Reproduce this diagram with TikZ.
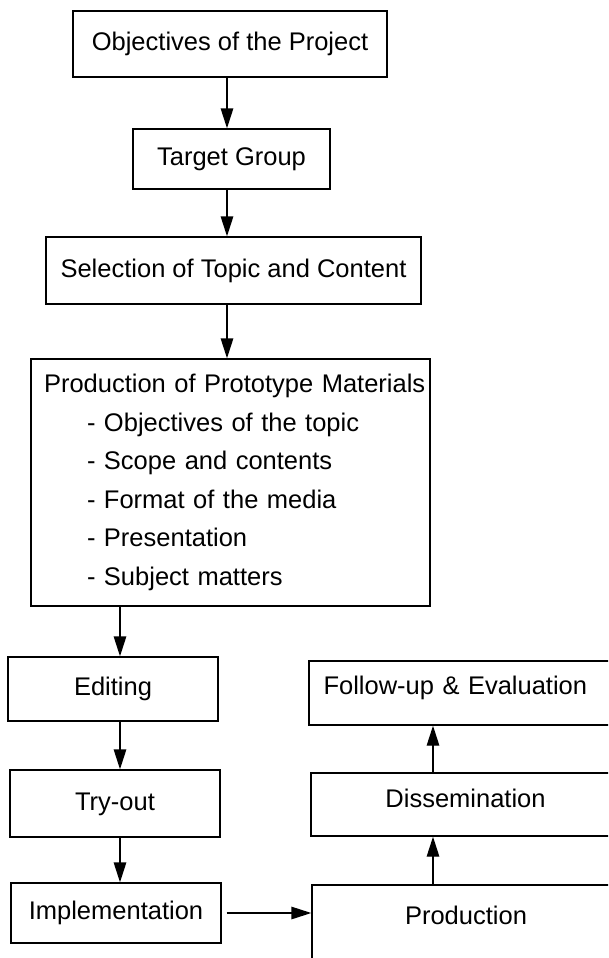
\documentclass[tikz,border=0pt]{standalone}
\usepackage{fontspec}
\setmainfont{Liberation Sans}
\usetikzlibrary{arrows.meta}

\begin{document}
\begin{tikzpicture}[x=1pt,y=-1pt,
  frame/.style={draw, line width=1.4pt, rectangle, inner sep=0pt,
                font=\fontsize{25.5}{30}\selectfont},
  box/.style={frame, text height=18pt, text depth=5pt},
  arr/.style={line width=1.4pt, -{Triangle[length=20pt,width=12.5pt]}}]

\useasboundingbox (0,0) rectangle (608,958);
\clip (0,0) rectangle (608,958);

% left column
\node[box, minimum width=314, minimum height=66] (obj) at (230,44) {Objectives of the Project};
\node[box, minimum width=197, minimum height=60] (tg) at (231.5,159) {Target Group};
\node[box, minimum width=375, minimum height=67] (sel) at (233.5,270.5) {Selection of Topic and Content};
\node[frame, align=left, text width=399, minimum height=247,
      font=\fontsize{25.5}{38.5}\selectfont] (proto) at (230.5,482.5)
  {\hspace*{13pt}Production of Prototype Materials\\
   \hspace*{56pt}- Objectives of the topic\\
   \hspace*{56pt}- Scope and contents\\
   \hspace*{56pt}- Format of the media\\
   \hspace*{56pt}- Presentation\\
   \hspace*{56pt}- Subject matters};
\node[box, minimum width=210, minimum height=64] (edit) at (113,689) {Editing};
\node[box, minimum width=210, minimum height=67] (try) at (115,803.5) {Try-out};
\node[box, minimum width=210, minimum height=60] (impl) at (116,913) {Implementation};

% right column (runs past the right edge)
\node[box, minimum width=311, minimum height=64, text width=282, align=left,
      text depth=16pt] (follow) at (464.5,693) {Follow-up \& Evaluation};
\node[box, minimum width=309, minimum height=63, text depth=12pt] (diss) at (465.5,804.5) {Dissemination};
\node[box, minimum width=308, minimum height=100, text depth=40pt] (prod) at (466,935) {Production};

% connector columns
\coordinate (cx) at (227,0);
\coordinate (lx) at (120,0);
\coordinate (rx) at (433,0);

\draw[arr] (obj.south -| cx) -- (tg.north -| cx);
\draw[arr] (tg.south -| cx) -- (sel.north -| cx);
\draw[arr] (sel.south -| cx) -- (proto.north -| cx);
\draw[arr] (proto.south -| lx) -- (edit.north -| lx);
\draw[arr] (edit.south -| lx) -- (try.north -| lx);
\draw[arr] (try.south -| lx) -- (impl.north -| lx);
\draw[arr] ([xshift=5pt]impl.east) -- (impl.east -| prod.west);
\draw[arr] (prod.north -| rx) -- (diss.south -| rx);
\draw[arr] (diss.north -| rx) -- (follow.south -| rx);
\end{tikzpicture}
\end{document}
